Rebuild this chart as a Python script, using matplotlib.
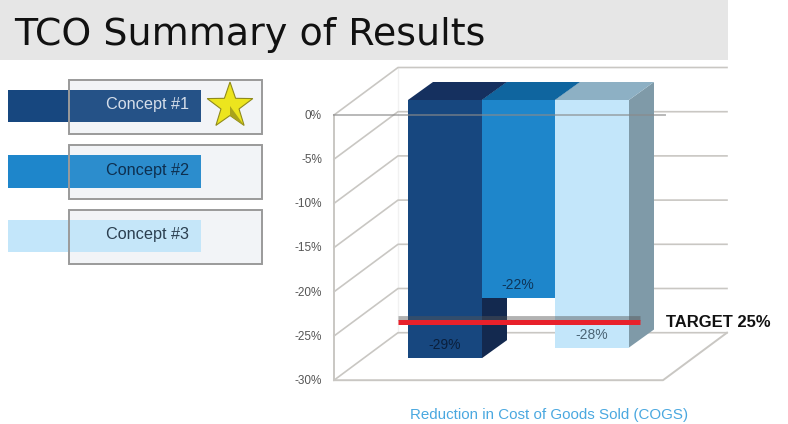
"""TCO summary slide: 3D-look column chart of COGS reduction for three concepts."""
import matplotlib

matplotlib.use("Agg")
import matplotlib.pyplot as plt  # noqa: E402
import numpy as np  # noqa: E402
from matplotlib.patches import Polygon, Rectangle  # noqa: E402

concepts = ["Concept #1", "Concept #2", "Concept #3"]
bar_values = [-29.2, -22.4, -28.0]
bar_labels = ["-29%", "-22%", "-28%"]
y_ticks = [0, -5, -10, -15, -20, -25, -30]
y_tick_labels = ["0%", "-5%", "-10%", "-15%", "-20%", "-25%", "-30%"]
target = -25

W, H = 788, 424
PX = 8.84            # pixels per percentage point
Y0 = 115             # pixel row of 0% on the front axis
SANS = "Liberation Sans"

face = ["#17477f", "#1e86cb", "#c3e6fa"]
top = ["#15305f", "#0f659f", "#8db0c4"]
side = ["#13294f", "#0f5a90", "#7f9aa8"]
legend_text = ["#d5deea", "#0e2f4f", "#2b3f50"]
label_text = ["#0a1f3c", "#0e3558", "#4a6475"]
GRID = "#c9c7c3"

fig = plt.figure(figsize=(W / 100, H / 100), dpi=100, facecolor="white")

# page layer in pixel coordinates, chart layer with y in percent
pg = fig.add_axes([0, 0, 1, 1], xlim=(0, W), ylim=(H, 0))
ax = fig.add_axes([0, 0, 1, 1], xlim=(0, W), ylim=((Y0 - H) / PX, Y0 / PX))
for a in (pg, ax):
    a.axis("off")
    a.patch.set_alpha(0)

# title band
pg.add_patch(Rectangle((0, 0), 728, 60, color="#e6e6e6", lw=0))
pg.text(14, 35, "TCO Summary of Results", fontsize=27.4, color="#111111",
        family="DejaVu Sans", va="center", ha="left")

# legend strips with the translucent frames laid over them
strip_y = [90, 155, 220]
strip_h = [32, 33, 32]
frame_y = [80, 145, 210]
for i, name in enumerate(concepts):
    pg.add_patch(Rectangle((69, frame_y[i]), 193, 54, facecolor="#f3f5f8", edgecolor="none", zorder=1))
    pg.add_patch(Rectangle((8, strip_y[i]), 193, strip_h[i], color=face[i], lw=0, zorder=2))
    pg.add_patch(Rectangle((69, frame_y[i]), 193, 54, facecolor="#e9edf3", alpha=0.07,
                           edgecolor="none", zorder=3))
    pg.add_patch(Rectangle((69, frame_y[i]), 193, 54, fill=False, edgecolor="#9a9a9a",
                           lw=1.4, zorder=4))
    pg.text(189, strip_y[i] + strip_h[i] / 2 - 1, name, fontsize=11.7, family=SANS,
            color=legend_text[i], ha="right", va="center", zorder=5)

# star on the winning concept
ang = np.deg2rad(-90 + 36 * np.arange(10))
rad = np.where(np.arange(10) % 2 == 0, 24, 9.5)
sx, sy = 230 + rad * np.cos(ang), 106 + rad * np.sin(ang)
pg.add_patch(Polygon(np.c_[sx, sy], facecolor="#ece51e", edgecolor="#8f8a1c", lw=0.8, zorder=6))
pg.add_patch(Polygon([(230, 106), (sx[4], sy[4]), (sx[5], sy[5])], facecolor="#a9a31c",
                     lw=0, zorder=7))

# 3D box: depth vector of the wall, in pixels and percent
DX, DY = 64, 47.5 / PX
FLOOR = y_ticks[-1]
ax.plot([334, 334], [y_ticks[0], FLOOR], color=GRID, lw=1.4, zorder=1)
ax.plot([334 + DX, 334 + DX], [DY, FLOOR + DY], color="#f1f1f1", lw=1, zorder=1)
for v, lab in zip(y_ticks, y_tick_labels):
    ax.plot([334, 334 + DX, 727], [v, v + DY, v + DY], color=GRID, lw=1.2, zorder=1)
    ax.text(322, v - 0.1, lab, fontsize=8.5, family=SANS, color="#555555", ha="right", va="center")
ax.plot([334, 663, 727], [FLOOR, FLOOR, FLOOR + DY], color=GRID, lw=1.4, zorder=1)

# columns, drawn left to right so each one covers the side of the last
BAR_X = [408, 482, 555]
BAR_W = [74, 73, 74]
BDX, BDY = 25, 18 / PX
LIFT = 15 / PX       # front plane of the columns sits behind the axis plane
for i, val in enumerate(bar_values):
    x0, x1 = BAR_X[i], BAR_X[i] + BAR_W[i]
    y0, y1 = LIFT, val + LIFT
    ax.add_patch(Polygon([(x1, y0), (x1 + BDX, y0 + BDY), (x1 + BDX, y1 + BDY), (x1, y1)],
                         color=side[i], lw=0, zorder=2))
    ax.add_patch(Polygon([(x0, y0), (x0 + BDX, y0 + BDY), (x1 + BDX, y0 + BDY), (x1, y0)],
                         color=top[i], lw=0, zorder=2))
    ax.add_patch(Rectangle((x0, y1), x1 - x0, y0 - y1, color=face[i], lw=0, zorder=2))
    ax.text((x0 + x1) / 2 - 0.5, y1 + 1.45, bar_labels[i], fontsize=10, family=SANS,
            color=label_text[i], ha="center", va="center", zorder=6)

# the 0% line shows through the columns
ax.plot([334, 665], [0, 0], color="#8a8a8a", alpha=0.6, lw=1.4, zorder=3)

# target line with its soft shadow
ty = target + LIFT - 0.1
ax.plot([398, 640], [ty + 0.45, ty + 0.45], color="#555555", alpha=0.45, lw=3.5,
        solid_capstyle="butt", zorder=4)
ax.plot([398, 640], [ty, ty], color="#e8212b", lw=3.6, solid_capstyle="butt", zorder=5)
ax.text(666, ty - 0.1, "TARGET 25%", fontsize=12, family=SANS, weight="bold", color="#111111",
        ha="left", va="center", zorder=6)

ax.text(549, (Y0 - 415) / PX, "Reduction in Cost of Goods Sold (COGS)", fontsize=10.9,
        family=SANS, color="#4aa8e0", ha="center", va="center")

fig.savefig("out.png", dpi=100)
